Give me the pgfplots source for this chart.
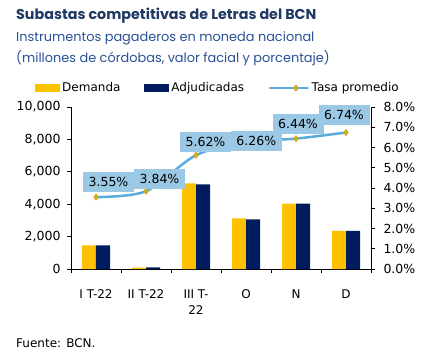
\documentclass[border=0pt]{standalone}
\usepackage{pgfplots}
\pgfplotsset{compat=1.18}
\usepackage{fontspec}
\setmainfont{DejaVu Sans}
\newfontfamily\titlefont{Poppins}
\definecolor{dem}{RGB}{255,192,0}
\definecolor{adj}{RGB}{0,28,94}
\definecolor{tasa}{RGB}{91,170,220}
\definecolor{lbl}{RGB}{155,200,228}
\definecolor{ttl}{RGB}{31,56,100}
\definecolor{sub}{RGB}{40,80,150}
\pgfplotsset{tasaleg/.style={legend image code/.code={\draw[mark repeat=2,mark phase=2,##1] plot coordinates {(0pt,0pt) (12.5pt,0pt) (25pt,0pt)};}}}
\begin{document}
\begin{tikzpicture}[x=1pt,y=1pt]
\path[use as bounding box] (0,0) rectangle (429,357);
\node[anchor=base west, inner sep=0, text=ttl, font=\titlefont\bfseries\fontsize{14.3}{16}\selectfont] at (16,337) {Subastas competitivas de Letras del BCN};
\node[anchor=base west, inner sep=0, text=sub, font=\titlefont\fontsize{12.9}{16}\selectfont] at (16,315) {Instrumentos pagaderos en moneda nacional};
\node[anchor=base west, inner sep=0, text=sub, font=\titlefont\fontsize{12.9}{16}\selectfont] at (16,294) {(millones de córdobas, valor facial y porcentaje)};
\node[anchor=base west, inner sep=0, font=\fontsize{12}{13}\selectfont] at (16,10) {Fuente: BCN.};
\begin{axis}[
  at={(71pt,88pt)}, anchor=south west, scale only axis,
  width=300pt, height=162pt,
  xmin=-0.5, xmax=5.5, ymin=0, ymax=10000,
  axis x line*=bottom, axis y line*=left,
  axis line style={black, line width=0.8pt},
  tick align=outside, major tick length=4pt, minor tick length=4pt,
  tick style={black, line width=0.8pt},
  xtick={0,...,5},
  xticklabels={I T-22, II T-22, {III T-\\22}, O, N, D},
  major x tick style={draw=none},
  minor xtick={-0.5,0.5,...,5.5},
  xticklabel style={align=center, font=\fontsize{12}{16.5}\selectfont, yshift=-13pt},
  ytick={0,2000,...,10000},
  scaled y ticks=false,
  yticklabel style={font=\fontsize{12.5}{14}\selectfont, xshift=-3pt},
  /pgf/number format/.cd, 1000 sep={,}, assume math mode=true, /pgfplots/.cd,
  ybar=0pt, bar width=14pt,
  legend columns=3,
  legend style={at={(0.49,1.117)}, anchor=center, draw=none, fill=none,
    font=\fontsize{12}{14}\selectfont, inner sep=0pt,
    /tikz/every even column/.append style={column sep=22pt}},
  legend cell align=left,
]
\addplot[fill=dem, draw=none, bar shift=-7pt,
  legend image code/.code={\fill[dem] (0pt,-4pt) rectangle (25pt,4pt);}]
  coordinates {(0,1460) (1,80) (2,5290) (3,3130) (4,4030) (5,2360)};
\addlegendentry{Demanda}
\addplot[fill=adj, draw=none, bar shift=7pt,
  legend image code/.code={\fill[adj] (0pt,-4pt) rectangle (25pt,4pt);}]
  coordinates {(0,1460) (1,100) (2,5230) (3,3070) (4,4030) (5,2360)};
\addlegendentry{Adjudicadas}
\addlegendimage{tasa, line width=2.5pt, mark=diamond*, mark size=3pt,
  mark options={fill=yellow!60!green, draw=orange, line width=0.6pt}, tasaleg}
\addlegendentry{Tasa promedio}
\end{axis}
\begin{axis}[
  at={(71pt,88pt)}, anchor=south west, scale only axis,
  width=300pt, height=162pt,
  xmin=-0.5, xmax=5.5, ymin=0, ymax=8,
  axis x line=none, axis y line*=right,
  axis line style={black, line width=0.8pt},
  tick align=outside, major tick length=4pt,
  tick style={black, line width=0.8pt},
  ytick={0,1,...,8},
  yticklabel={\pgfmathprintnumber[fixed,fixed zerofill,precision=1,assume math mode=true]{\tick}\%},
  yticklabel style={font=\fontsize{12.5}{14}\selectfont, xshift=5pt},
  clip=false,
]
\addplot[tasa, line width=2.5pt, smooth, mark=diamond*, mark size=3pt,
  mark options={fill=yellow!60!green, draw=orange, line width=0.6pt}]
  coordinates {(0,3.55) (1,3.84) (2,5.62) (3,6.26) (4,6.44) (5,6.74)};
\end{axis}
\begin{axis}[
  at={(71pt,88pt)}, anchor=south west, scale only axis,
  width=300pt, height=162pt,
  xmin=-0.5, xmax=5.5, ymin=0, ymax=8,
  hide axis, clip=false,
]
\tikzset{lb/.style={fill=lbl, inner sep=0pt, minimum width=51pt, minimum height=20pt, font=\fontsize{12.5}{14}\selectfont}}
\node[lb, xshift=12.5pt, yshift=15.4pt] at (axis cs:0,3.55) {3.55\%};
\node[lb, xshift=13.5pt, yshift=11.9pt] at (axis cs:1,3.84) {3.84\%};
\node[lb, xshift=9.5pt, yshift=13.5pt] at (axis cs:2,5.62) {5.62\%};
\node[lb, xshift=10.3pt, yshift=1.7pt] at (axis cs:3,6.26) {6.26\%};
\node[lb, xshift=2pt, yshift=14.4pt] at (axis cs:4,6.44) {6.44\%};
\node[lb, xshift=-2pt, yshift=18pt] at (axis cs:5,6.74) {6.74\%};
\end{axis}
\end{tikzpicture}
\end{document}
